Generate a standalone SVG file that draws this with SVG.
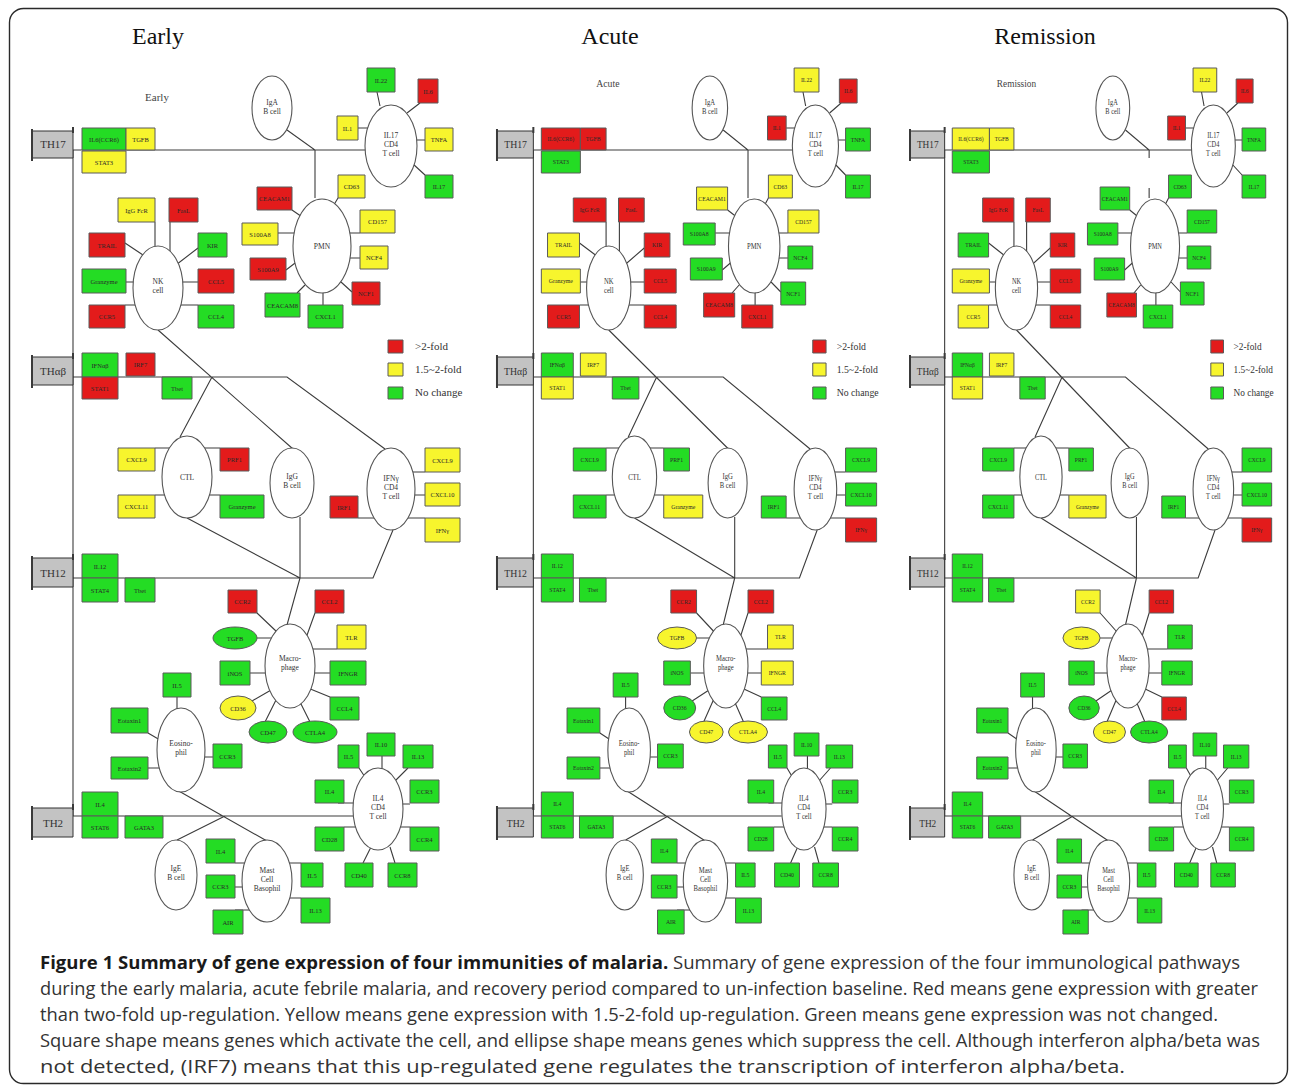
<svg xmlns="http://www.w3.org/2000/svg" width="1290" height="1087" viewBox="0 0 1290 1087">
<style>
text{font-family:"Liberation Serif","DejaVu Serif",serif}
.frame{fill:#fff;stroke:#2a2a2a;stroke-width:1.4}
.ln path{fill:none;stroke:#3c3c3c;stroke-width:1.1;vector-effect:non-scaling-stroke}
.cell ellipse{fill:#fff;stroke:#555;stroke-width:1.1;vector-effect:non-scaling-stroke}
.cell text{font-size:7.5px;fill:#333;text-anchor:middle}
.R,.Y,.G{stroke:#5a5a5a;stroke-width:1;vector-effect:non-scaling-stroke}
.R{fill:#e31b1b}.Y{fill:#f7f52d}.G{fill:#24dc24}
.gn text{font-size:6.5px;fill:#2a2a2a;text-anchor:middle}
.th rect{fill:#c3c3c3;stroke:#333;stroke-width:1;vector-effect:non-scaling-stroke}
.th path{fill:none;stroke:#3a3a3a;stroke-width:2;vector-effect:non-scaling-stroke}
.th text{font-size:11px;fill:#333;text-anchor:middle}
.title{font-size:24px;fill:#111;text-anchor:middle}
.sub{font-size:11px;fill:#444;text-anchor:middle}
.leg text{font-size:11px;fill:#333}
.cap text{font-family:"Open Sans","Liberation Sans",sans-serif;font-size:18px;fill:#333}
.cap .b{font-weight:bold;fill:#1a1a1a}
</style>
<rect class="frame" x="9.5" y="8.5" width="1278" height="1075" rx="14"/>
<g id="titles">
<text class="title" x="158" y="44">Early</text>
<text class="title" x="610" y="44">Acute</text>
<text class="title" x="1045" y="44">Remission</text>
</g>

<!-- ================= EARLY ================= -->
<g id="panel-early">
<text class="sub" x="157" y="101">Early</text>
<g id="e-connectors" class="ln">
<path d="M73,150V816M73,150H366M287,130L315,150V198M158,330L293,449M73,377H287L385,449M212,377L180,437M187,518L300,578M300,517V578M73,578H373L393,530M300,578L287,625M73,816H353M177,790L267,841M225,816L177,840"/>
<path d="M377,92L380,106M420,103L407,113M358,128H370M425,140H414M425,175L413,164"/>
<path d="M292,210L308,221M338,198L332,208M360,233H340M278,233H297M360,258H349M286,270L299,260M352,292L341,282M297,293L305,285M323,305V284"/>
<path d="M155,222V253M170,222V258M198,248L172,268M125,243L143,255M126,282H139M198,282H178M125,305H138M198,305H179"/>
<path d="M155,448H177M220,448H199M155,495H168M220,495H207M425,472H412M425,495H412M425,518H405M358,518H382"/>
<path d="M257,613L277,632M315,613L302,649H337M257,638H279M250,673H270M330,673H310M252,701L278,686M330,697L303,686M265,722L277,698M310,722L298,698"/>
<path d="M177,697V720M148,733L160,740M148,768H161M213,757H200"/>
<path d="M359,768L365,777M382,756V775M408,768L393,783M338,803H357M410,804H397M344,827H358M410,827H398M363,863L373,843M395,863L390,847"/>
<path d="M235,863H249M235,887H249M235,910H257M301,863H287M301,898H288"/>
</g>
<g class="th">
<g id="e-th17"><rect x="32" y="131" width="41" height="27"/><path d="M32,129V161M73,127V133"/><text x="53" y="148">TH17</text></g>
<g id="e-thab"><rect x="32" y="357" width="41" height="28"/><path d="M32,355V388M73,353V359"/><text x="53" y="375">THαβ</text></g>
<g id="e-th12"><rect x="32" y="558" width="41" height="29"/><path d="M32,556V590M73,554V560"/><text x="53" y="577">TH12</text></g>
<g id="e-th2"><rect x="32" y="808" width="41" height="29"/><path d="M32,806V840M73,804V810"/><text x="53" y="827">TH2</text></g>
</g>
<g class="cell">
<g id="e-iga"><ellipse cx="272" cy="108" rx="20" ry="32"/><text x="272" y="105">IgA</text><text x="272" y="114">B cell</text></g>
<g id="e-il17cell"><ellipse cx="391" cy="146" rx="26" ry="41"/><text x="391" y="138">IL17</text><text x="391" y="147">CD4</text><text x="391" y="156">T cell</text></g>
<g id="e-pmn"><ellipse cx="322" cy="246" rx="29" ry="47"/><text x="322" y="249">PMN</text></g>
<g id="e-nk"><ellipse cx="158" cy="288" rx="25" ry="42"/><text x="158" y="284">NK</text><text x="158" y="293">cell</text></g>
<g id="e-ctl"><ellipse cx="187" cy="477" rx="25" ry="41"/><text x="187" y="480">CTL</text></g>
<g id="e-igg"><ellipse cx="292" cy="483" rx="22" ry="35"/><text x="292" y="479">IgG</text><text x="292" y="488">B cell</text></g>
<g id="e-ifng"><ellipse cx="391" cy="489" rx="24" ry="41"/><text x="391" y="481">IFNγ</text><text x="391" y="490">CD4</text><text x="391" y="499">T cell</text></g>
<g id="e-mac"><ellipse cx="290" cy="666" rx="25" ry="42"/><text x="290" y="661">Macro-</text><text x="290" y="670">phage</text></g>
<g id="e-eos"><ellipse cx="181" cy="750" rx="24" ry="42"/><text x="181" y="746">Eosino-</text><text x="181" y="755">phil</text></g>
<g id="e-il4cell"><ellipse cx="378" cy="809" rx="25" ry="41"/><text x="378" y="801">IL4</text><text x="378" y="810">CD4</text><text x="378" y="819">T cell</text></g>
<g id="e-ige"><ellipse cx="176" cy="875" rx="21" ry="35"/><text x="176" y="871">IgE</text><text x="176" y="880">B cell</text></g>
<g id="e-mast"><ellipse cx="267" cy="881" rx="25" ry="41"/><text x="267" y="873">Mast</text><text x="267" y="882">Cell</text><text x="267" y="891">Basophil</text></g>
</g>
<g class="gn">
<g id="e-n1"><rect class="G" x="82" y="128" width="44" height="22"/><text x="104" y="141.5">IL6(CCR6)</text></g>
<g id="e-n2"><rect class="Y" x="126" y="128" width="29" height="22"/><text x="140.5" y="141.5">TGFB</text></g>
<g id="e-n3"><rect class="Y" x="82" y="151" width="44" height="22"/><text x="104" y="164.5">STAT3</text></g>
<g id="e-n4"><rect class="G" x="367" y="68" width="28" height="24"/><text x="381" y="82.5">IL22</text></g>
<g id="e-n5"><rect class="R" x="418" y="79" width="20" height="24"/><text x="428" y="93.5">IL6</text></g>
<g id="e-n6"><rect class="Y" x="337" y="116" width="21" height="24"/><text x="347.5" y="130.5">IL1</text></g>
<g id="e-n7"><rect class="Y" x="425" y="128" width="28" height="23"/><text x="439" y="142">TNFA</text></g>
<g id="e-n8"><rect class="G" x="425" y="175" width="28" height="23"/><text x="439" y="189">IL17</text></g>
<g id="e-n9"><rect class="R" x="257" y="187" width="35" height="23"/><text x="274.5" y="201">CEACAM1</text></g>
<g id="e-n10"><rect class="Y" x="338" y="175" width="27" height="23"/><text x="351.5" y="189">CD63</text></g>
<g id="e-n11"><rect class="Y" x="360" y="210" width="35" height="23"/><text x="377.5" y="224">CD157</text></g>
<g id="e-n12"><rect class="Y" x="242" y="223" width="36" height="22"/><text x="260" y="236.5">S100A8</text></g>
<g id="e-n13"><rect class="Y" x="360" y="246" width="28" height="23"/><text x="374" y="260">NCF4</text></g>
<g id="e-n14"><rect class="R" x="250" y="258" width="36" height="22"/><text x="268" y="271.5">S100A9</text></g>
<g id="e-n15"><rect class="R" x="352" y="282" width="28" height="23"/><text x="366" y="296">NCF1</text></g>
<g id="e-n16"><rect class="G" x="265" y="293" width="35" height="24"/><text x="282.5" y="307.5">CEACAM8</text></g>
<g id="e-n17"><rect class="G" x="308" y="305" width="35" height="23"/><text x="325.5" y="319">CXCL1</text></g>
<g id="e-n18"><rect class="Y" x="118" y="198" width="37" height="24"/><text x="136.5" y="212.5">IgG FcR</text></g>
<g id="e-n19"><rect class="R" x="169" y="198" width="29" height="24"/><text x="183.5" y="212.5">FasL</text></g>
<g id="e-n20"><rect class="R" x="89" y="233" width="36" height="24"/><text x="107" y="247.5">TRAIL</text></g>
<g id="e-n21"><rect class="G" x="198" y="233" width="29" height="24"/><text x="212.5" y="247.5">KIR</text></g>
<g id="e-n22"><rect class="G" x="82" y="269" width="44" height="24"/><text x="104" y="283.5">Granzyme</text></g>
<g id="e-n23"><rect class="R" x="198" y="269" width="36" height="24"/><text x="216" y="283.5">CCL5</text></g>
<g id="e-n24"><rect class="R" x="89" y="305" width="36" height="23"/><text x="107" y="319">CCR5</text></g>
<g id="e-n25"><rect class="G" x="198" y="305" width="36" height="23"/><text x="216" y="319">CCL4</text></g>
<g id="e-n26"><rect class="G" x="82" y="353" width="36" height="24"/><text x="100" y="367.5">IFNαβ</text></g>
<g id="e-n27"><rect class="R" x="126" y="353" width="29" height="23"/><text x="140.5" y="367">IRF7</text></g>
<g id="e-n28"><rect class="R" x="82" y="377" width="36" height="22"/><text x="100" y="390.5">STAT1</text></g>
<g id="e-n29"><rect class="G" x="162" y="377" width="30" height="22"/><text x="177" y="390.5">Tbet</text></g>
<g id="e-n30"><rect class="Y" x="118" y="448" width="37" height="23"/><text x="136.5" y="462">CXCL9</text></g>
<g id="e-n31"><rect class="R" x="220" y="448" width="29" height="23"/><text x="234.5" y="462">PRF1</text></g>
<g id="e-n32"><rect class="Y" x="118" y="495" width="37" height="23"/><text x="136.5" y="509">CXCL11</text></g>
<g id="e-n33"><rect class="G" x="220" y="495" width="44" height="23"/><text x="242" y="509">Granzyme</text></g>
<g id="e-n34"><rect class="Y" x="425" y="448" width="35" height="24"/><text x="442.5" y="462.5">CXCL9</text></g>
<g id="e-n35"><rect class="Y" x="425" y="483" width="35" height="23"/><text x="442.5" y="497">CXCL10</text></g>
<g id="e-n36"><rect class="Y" x="425" y="518" width="35" height="24"/><text x="442.5" y="532.5">IFNγ</text></g>
<g id="e-n37"><rect class="R" x="330" y="496" width="28" height="22"/><text x="344" y="509.5">IRF1</text></g>
<g id="e-n38"><rect class="G" x="82" y="554" width="36" height="24"/><text x="100" y="568.5">IL12</text></g>
<g id="e-n39"><rect class="G" x="82" y="578" width="36" height="24"/><text x="100" y="592.5">STAT4</text></g>
<g id="e-n40"><rect class="G" x="125" y="578" width="30" height="24"/><text x="140" y="592.5">Tbet</text></g>
<g id="e-n41"><rect class="R" x="228" y="590" width="29" height="23"/><text x="242.5" y="604">CCR2</text></g>
<g id="e-n42"><rect class="R" x="315" y="590" width="29" height="23"/><text x="329.5" y="604">CCL2</text></g>
<g id="e-n43"><ellipse class="G" cx="235" cy="638" rx="22" ry="11"/><text x="235" y="640.5">TGFB</text></g>
<g id="e-n44"><rect class="Y" x="337" y="625" width="29" height="24"/><text x="351.5" y="639.5">TLR</text></g>
<g id="e-n45"><rect class="G" x="220" y="661" width="30" height="24"/><text x="235" y="675.5">iNOS</text></g>
<g id="e-n46"><rect class="G" x="330" y="661" width="36" height="24"/><text x="348" y="675.5">IFNGR</text></g>
<g id="e-n47"><ellipse class="Y" cx="238" cy="708" rx="18" ry="12"/><text x="238" y="710.5">CD36</text></g>
<g id="e-n48"><rect class="G" x="330" y="697" width="29" height="23"/><text x="344.5" y="711">CCL4</text></g>
<g id="e-n49"><ellipse class="G" cx="268" cy="732" rx="19" ry="11"/><text x="268" y="734.5">CD47</text></g>
<g id="e-n50"><ellipse class="G" cx="315" cy="732" rx="22" ry="11"/><text x="315" y="734.5">CTLA4</text></g>
<g id="e-n51"><rect class="G" x="163" y="673" width="28" height="24"/><text x="177" y="687.5">IL5</text></g>
<g id="e-n52"><rect class="G" x="111" y="708" width="37" height="25"/><text x="129.5" y="723">Eotaxin1</text></g>
<g id="e-n53"><rect class="G" x="111" y="757" width="37" height="22"/><text x="129.5" y="770.5">Eotaxin2</text></g>
<g id="e-n54"><rect class="G" x="213" y="744" width="29" height="24"/><text x="227.5" y="758.5">CCR3</text></g>
<g id="e-n55"><rect class="G" x="82" y="792" width="36" height="24"/><text x="100" y="806.5">IL4</text></g>
<g id="e-n56"><rect class="G" x="82" y="816" width="36" height="22"/><text x="100" y="829.5">STAT6</text></g>
<g id="e-n57"><rect class="G" x="125" y="816" width="38" height="22"/><text x="144" y="829.5">GATA3</text></g>
<g id="e-n58"><rect class="G" x="338" y="745" width="21" height="23"/><text x="348.5" y="759">IL5</text></g>
<g id="e-n59"><rect class="G" x="367" y="733" width="28" height="23"/><text x="381" y="747">IL10</text></g>
<g id="e-n60"><rect class="G" x="403" y="745" width="30" height="23"/><text x="418" y="759">IL13</text></g>
<g id="e-n61"><rect class="G" x="315" y="780" width="29" height="23"/><text x="329.5" y="794">IL4</text></g>
<g id="e-n62"><rect class="G" x="410" y="780" width="29" height="23"/><text x="424.5" y="794">CCR3</text></g>
<g id="e-n63"><rect class="G" x="315" y="827" width="29" height="24"/><text x="329.5" y="841.5">CD28</text></g>
<g id="e-n64"><rect class="G" x="410" y="827" width="29" height="24"/><text x="424.5" y="841.5">CCR4</text></g>
<g id="e-n65"><rect class="G" x="345" y="863" width="28" height="24"/><text x="359" y="877.5">CD40</text></g>
<g id="e-n66"><rect class="G" x="388" y="863" width="29" height="24"/><text x="402.5" y="877.5">CCR8</text></g>
<g id="e-n67"><rect class="G" x="206" y="839" width="29" height="24"/><text x="220.5" y="853.5">IL4</text></g>
<g id="e-n68"><rect class="G" x="206" y="875" width="29" height="23"/><text x="220.5" y="889">CCR3</text></g>
<g id="e-n69"><rect class="G" x="213" y="910" width="30" height="24"/><text x="228" y="924.5">AIR</text></g>
<g id="e-n70"><rect class="G" x="301" y="863" width="22" height="24"/><text x="312" y="877.5">IL5</text></g>
<g id="e-n71"><rect class="G" x="301" y="898" width="29" height="25"/><text x="315.5" y="913">IL13</text></g>
</g>
<g id="e-legend" class="leg">
<rect class="R" x="388" y="340" width="15" height="13"/><text x="415" y="350">&gt;2-fold</text>
<rect class="Y" x="388" y="363" width="15" height="13"/><text x="415" y="373">1.5~2-fold</text>
<rect class="G" x="388" y="387" width="15" height="12"/><text x="415" y="396">No change</text>
</g>
</g>

<!-- ================= ACUTE ================= -->
<g id="panel-acute" transform="matrix(0.887 0 0 1 468.6 0)">
<text class="sub" x="157" y="87">Acute</text>
<g id="a-connectors" class="ln">
<path d="M73,150V816M73,150H366M287,130L315,150V198M158,330L293,449M73,377H287L385,449M212,377L180,437M187,518L300,578M300,517V578M73,578H373L393,530M300,578L287,625M73,816H353M177,790L267,841M225,816L177,840"/>
<path d="M377,92L380,106M420,103L407,113M358,128H370M425,140H414M425,175L413,164"/>
<path d="M292,210L308,221M338,198L332,208M360,233H340M278,233H297M360,258H349M286,270L299,260M352,292L341,282M297,293L305,285M323,305V284"/>
<path d="M155,222V253M170,222V258M198,248L172,268M125,243L143,255M126,282H139M198,282H178M125,305H138M198,305H179"/>
<path d="M155,448H177M220,448H199M155,495H168M220,495H207M425,472H412M425,495H412M425,518H405M358,518H382"/>
<path d="M257,613L277,632M315,613L302,649H337M257,638H279M250,673H270M330,673H310M252,701L278,686M330,697L303,686M265,722L277,698M310,722L298,698"/>
<path d="M177,697V720M148,733L160,740M148,768H161M213,757H200"/>
<path d="M359,768L365,777M382,756V775M408,768L393,783M338,803H357M410,804H397M344,827H358M410,827H398M363,863L373,843M395,863L390,847"/>
<path d="M235,863H249M235,887H249M235,910H257M301,863H287M301,898H288"/>
</g>
<g class="th">
<g id="a-th17"><rect x="32" y="131" width="41" height="27"/><path d="M32,129V161M73,127V133"/><text x="53" y="148">TH17</text></g>
<g id="a-thab"><rect x="32" y="357" width="41" height="28"/><path d="M32,355V388M73,353V359"/><text x="53" y="375">THαβ</text></g>
<g id="a-th12"><rect x="32" y="558" width="41" height="29"/><path d="M32,556V590M73,554V560"/><text x="53" y="577">TH12</text></g>
<g id="a-th2"><rect x="32" y="808" width="41" height="29"/><path d="M32,806V840M73,804V810"/><text x="53" y="827">TH2</text></g>
</g>
<g class="cell">
<g id="a-iga"><ellipse cx="272" cy="108" rx="20" ry="32"/><text x="272" y="105">IgA</text><text x="272" y="114">B cell</text></g>
<g id="a-il17cell"><ellipse cx="391" cy="146" rx="26" ry="41"/><text x="391" y="138">IL17</text><text x="391" y="147">CD4</text><text x="391" y="156">T cell</text></g>
<g id="a-pmn"><ellipse cx="322" cy="246" rx="29" ry="47"/><text x="322" y="249">PMN</text></g>
<g id="a-nk"><ellipse cx="158" cy="288" rx="25" ry="42"/><text x="158" y="284">NK</text><text x="158" y="293">cell</text></g>
<g id="a-ctl"><ellipse cx="187" cy="477" rx="25" ry="41"/><text x="187" y="480">CTL</text></g>
<g id="a-igg"><ellipse cx="292" cy="483" rx="22" ry="35"/><text x="292" y="479">IgG</text><text x="292" y="488">B cell</text></g>
<g id="a-ifng"><ellipse cx="391" cy="489" rx="24" ry="41"/><text x="391" y="481">IFNγ</text><text x="391" y="490">CD4</text><text x="391" y="499">T cell</text></g>
<g id="a-mac"><ellipse cx="290" cy="666" rx="25" ry="42"/><text x="290" y="661">Macro-</text><text x="290" y="670">phage</text></g>
<g id="a-eos"><ellipse cx="181" cy="750" rx="24" ry="42"/><text x="181" y="746">Eosino-</text><text x="181" y="755">phil</text></g>
<g id="a-il4cell"><ellipse cx="378" cy="809" rx="25" ry="41"/><text x="378" y="801">IL4</text><text x="378" y="810">CD4</text><text x="378" y="819">T cell</text></g>
<g id="a-ige"><ellipse cx="176" cy="875" rx="21" ry="35"/><text x="176" y="871">IgE</text><text x="176" y="880">B cell</text></g>
<g id="a-mast"><ellipse cx="267" cy="881" rx="25" ry="41"/><text x="267" y="873">Mast</text><text x="267" y="882">Cell</text><text x="267" y="891">Basophil</text></g>
</g>
<g class="gn">
<g id="a-n1"><rect class="R" x="82" y="128" width="44" height="22"/><text x="104" y="141.5">IL6(CCR6)</text></g>
<g id="a-n2"><rect class="R" x="126" y="128" width="29" height="22"/><text x="140.5" y="141.5">TGFB</text></g>
<g id="a-n3"><rect class="G" x="82" y="151" width="44" height="22"/><text x="104" y="164.5">STAT3</text></g>
<g id="a-n4"><rect class="Y" x="367" y="68" width="28" height="24"/><text x="381" y="82.5">IL22</text></g>
<g id="a-n5"><rect class="R" x="418" y="79" width="20" height="24"/><text x="428" y="93.5">IL6</text></g>
<g id="a-n6"><rect class="R" x="337" y="116" width="21" height="24"/><text x="347.5" y="130.5">IL1</text></g>
<g id="a-n7"><rect class="G" x="425" y="128" width="28" height="23"/><text x="439" y="142">TNFA</text></g>
<g id="a-n8"><rect class="G" x="425" y="175" width="28" height="23"/><text x="439" y="189">IL17</text></g>
<g id="a-n9"><rect class="Y" x="257" y="187" width="35" height="23"/><text x="274.5" y="201">CEACAM1</text></g>
<g id="a-n10"><rect class="Y" x="338" y="175" width="27" height="23"/><text x="351.5" y="189">CD63</text></g>
<g id="a-n11"><rect class="Y" x="360" y="210" width="35" height="23"/><text x="377.5" y="224">CD157</text></g>
<g id="a-n12"><rect class="G" x="242" y="223" width="36" height="22"/><text x="260" y="236.5">S100A8</text></g>
<g id="a-n13"><rect class="G" x="360" y="246" width="28" height="23"/><text x="374" y="260">NCF4</text></g>
<g id="a-n14"><rect class="G" x="250" y="258" width="36" height="22"/><text x="268" y="271.5">S100A9</text></g>
<g id="a-n15"><rect class="G" x="352" y="282" width="28" height="23"/><text x="366" y="296">NCF1</text></g>
<g id="a-n16"><rect class="R" x="265" y="293" width="35" height="24"/><text x="282.5" y="307.5">CEACAM8</text></g>
<g id="a-n17"><rect class="R" x="308" y="305" width="35" height="23"/><text x="325.5" y="319">CXCL1</text></g>
<g id="a-n18"><rect class="R" x="118" y="198" width="37" height="24"/><text x="136.5" y="212.5">IgG FcR</text></g>
<g id="a-n19"><rect class="R" x="169" y="198" width="29" height="24"/><text x="183.5" y="212.5">FasL</text></g>
<g id="a-n20"><rect class="Y" x="89" y="233" width="36" height="24"/><text x="107" y="247.5">TRAIL</text></g>
<g id="a-n21"><rect class="R" x="198" y="233" width="29" height="24"/><text x="212.5" y="247.5">KIR</text></g>
<g id="a-n22"><rect class="Y" x="82" y="269" width="44" height="24"/><text x="104" y="283.5">Granzyme</text></g>
<g id="a-n23"><rect class="R" x="198" y="269" width="36" height="24"/><text x="216" y="283.5">CCL5</text></g>
<g id="a-n24"><rect class="R" x="89" y="305" width="36" height="23"/><text x="107" y="319">CCR5</text></g>
<g id="a-n25"><rect class="R" x="198" y="305" width="36" height="23"/><text x="216" y="319">CCL4</text></g>
<g id="a-n26"><rect class="G" x="82" y="353" width="36" height="24"/><text x="100" y="367.5">IFNαβ</text></g>
<g id="a-n27"><rect class="Y" x="126" y="353" width="29" height="23"/><text x="140.5" y="367">IRF7</text></g>
<g id="a-n28"><rect class="Y" x="82" y="377" width="36" height="22"/><text x="100" y="390.5">STAT1</text></g>
<g id="a-n29"><rect class="G" x="162" y="377" width="30" height="22"/><text x="177" y="390.5">Tbet</text></g>
<g id="a-n30"><rect class="G" x="118" y="448" width="37" height="23"/><text x="136.5" y="462">CXCL9</text></g>
<g id="a-n31"><rect class="G" x="220" y="448" width="29" height="23"/><text x="234.5" y="462">PRF1</text></g>
<g id="a-n32"><rect class="G" x="118" y="495" width="37" height="23"/><text x="136.5" y="509">CXCL11</text></g>
<g id="a-n33"><rect class="Y" x="220" y="495" width="44" height="23"/><text x="242" y="509">Granzyme</text></g>
<g id="a-n34"><rect class="G" x="425" y="448" width="35" height="24"/><text x="442.5" y="462.5">CXCL9</text></g>
<g id="a-n35"><rect class="G" x="425" y="483" width="35" height="23"/><text x="442.5" y="497">CXCL10</text></g>
<g id="a-n36"><rect class="R" x="425" y="518" width="35" height="24"/><text x="442.5" y="532.5">IFNγ</text></g>
<g id="a-n37"><rect class="G" x="330" y="496" width="28" height="22"/><text x="344" y="509.5">IRF1</text></g>
<g id="a-n38"><rect class="G" x="82" y="554" width="36" height="24"/><text x="100" y="568.5">IL12</text></g>
<g id="a-n39"><rect class="G" x="82" y="578" width="36" height="24"/><text x="100" y="592.5">STAT4</text></g>
<g id="a-n40"><rect class="G" x="125" y="578" width="30" height="24"/><text x="140" y="592.5">Tbet</text></g>
<g id="a-n41"><rect class="R" x="228" y="590" width="29" height="23"/><text x="242.5" y="604">CCR2</text></g>
<g id="a-n42"><rect class="R" x="315" y="590" width="29" height="23"/><text x="329.5" y="604">CCL2</text></g>
<g id="a-n43"><ellipse class="Y" cx="235" cy="638" rx="22" ry="11"/><text x="235" y="640.5">TGFB</text></g>
<g id="a-n44"><rect class="Y" x="337" y="625" width="29" height="24"/><text x="351.5" y="639.5">TLR</text></g>
<g id="a-n45"><rect class="G" x="220" y="661" width="30" height="24"/><text x="235" y="675.5">iNOS</text></g>
<g id="a-n46"><rect class="Y" x="330" y="661" width="36" height="24"/><text x="348" y="675.5">IFNGR</text></g>
<g id="a-n47"><ellipse class="G" cx="238" cy="708" rx="18" ry="12"/><text x="238" y="710.5">CD36</text></g>
<g id="a-n48"><rect class="G" x="330" y="697" width="29" height="23"/><text x="344.5" y="711">CCL4</text></g>
<g id="a-n49"><ellipse class="Y" cx="268" cy="732" rx="19" ry="11"/><text x="268" y="734.5">CD47</text></g>
<g id="a-n50"><ellipse class="Y" cx="315" cy="732" rx="22" ry="11"/><text x="315" y="734.5">CTLA4</text></g>
<g id="a-n51"><rect class="G" x="163" y="673" width="28" height="24"/><text x="177" y="687.5">IL5</text></g>
<g id="a-n52"><rect class="G" x="111" y="708" width="37" height="25"/><text x="129.5" y="723">Eotaxin1</text></g>
<g id="a-n53"><rect class="G" x="111" y="757" width="37" height="22"/><text x="129.5" y="770.5">Eotaxin2</text></g>
<g id="a-n54"><rect class="G" x="213" y="744" width="29" height="24"/><text x="227.5" y="758.5">CCR3</text></g>
<g id="a-n55"><rect class="G" x="82" y="792" width="36" height="24"/><text x="100" y="806.5">IL4</text></g>
<g id="a-n56"><rect class="G" x="82" y="816" width="36" height="22"/><text x="100" y="829.5">STAT6</text></g>
<g id="a-n57"><rect class="G" x="125" y="816" width="38" height="22"/><text x="144" y="829.5">GATA3</text></g>
<g id="a-n58"><rect class="G" x="338" y="745" width="21" height="23"/><text x="348.5" y="759">IL5</text></g>
<g id="a-n59"><rect class="G" x="367" y="733" width="28" height="23"/><text x="381" y="747">IL10</text></g>
<g id="a-n60"><rect class="G" x="403" y="745" width="30" height="23"/><text x="418" y="759">IL13</text></g>
<g id="a-n61"><rect class="G" x="315" y="780" width="29" height="23"/><text x="329.5" y="794">IL4</text></g>
<g id="a-n62"><rect class="G" x="410" y="780" width="29" height="23"/><text x="424.5" y="794">CCR3</text></g>
<g id="a-n63"><rect class="G" x="315" y="827" width="29" height="24"/><text x="329.5" y="841.5">CD28</text></g>
<g id="a-n64"><rect class="G" x="410" y="827" width="29" height="24"/><text x="424.5" y="841.5">CCR4</text></g>
<g id="a-n65"><rect class="G" x="345" y="863" width="28" height="24"/><text x="359" y="877.5">CD40</text></g>
<g id="a-n66"><rect class="G" x="388" y="863" width="29" height="24"/><text x="402.5" y="877.5">CCR8</text></g>
<g id="a-n67"><rect class="G" x="206" y="839" width="29" height="24"/><text x="220.5" y="853.5">IL4</text></g>
<g id="a-n68"><rect class="G" x="206" y="875" width="29" height="23"/><text x="220.5" y="889">CCR3</text></g>
<g id="a-n69"><rect class="G" x="213" y="910" width="30" height="24"/><text x="228" y="924.5">AIR</text></g>
<g id="a-n70"><rect class="G" x="301" y="863" width="22" height="24"/><text x="312" y="877.5">IL5</text></g>
<g id="a-n71"><rect class="G" x="301" y="898" width="29" height="25"/><text x="315.5" y="913">IL13</text></g>
</g>
<g id="a-legend" class="leg">
<rect class="R" x="388" y="340" width="15" height="13"/><text x="415" y="350">&gt;2-fold</text>
<rect class="Y" x="388" y="363" width="15" height="13"/><text x="415" y="373">1.5~2-fold</text>
<rect class="G" x="388" y="387" width="15" height="12"/><text x="415" y="396">No change</text>
</g>
</g>

<!-- ================= REMISSION ================= -->
<g id="panel-remission" transform="matrix(0.845 0 0 1 882.96 0)">
<text class="sub" x="158" y="87">Remission</text>
<g id="r-connectors" class="ln">
<path d="M73,150V816M73,150H366M287,130L315,150V158M315,188V198M158,330L293,449M73,377H287L385,449M212,377L180,437M187,518L300,578M300,517V578M73,578H373L393,530M300,578L287,625M73,816H353M177,790L267,841M225,816L177,840"/>
<path d="M377,92L380,106M420,103L407,113M358,128H370M425,140H414M425,175L413,164"/>
<path d="M292,210L308,221M338,198L332,208M360,233H340M278,233H297M360,258H349M286,270L299,260M352,292L341,282M297,293L305,285M323,305V284"/>
<path d="M155,222V253M170,222V258M198,248L172,268M125,243L143,255M126,282H139M198,282H178M125,305H138M198,305H179"/>
<path d="M155,448H177M220,448H199M155,495H168M220,495H207M425,472H412M425,495H412M425,518H405M358,518H382"/>
<path d="M257,613L277,632M315,613L302,649H337M257,638H279M250,673H270M330,673H310M252,701L278,686M330,697L303,686M265,722L277,698M310,722L298,698"/>
<path d="M177,697V720M148,733L160,740M148,768H161M213,757H200"/>
<path d="M359,768L365,777M382,756V775M408,768L393,783M338,803H357M410,804H397M344,827H358M410,827H398M363,863L373,843M395,863L390,847"/>
<path d="M235,863H249M235,887H249M235,910H257M301,863H287M301,898H288"/>
</g>
<g class="th">
<g id="r-th17"><rect x="32" y="131" width="41" height="27"/><path d="M32,129V161M73,127V133"/><text x="53" y="148">TH17</text></g>
<g id="r-thab"><rect x="32" y="357" width="41" height="28"/><path d="M32,355V388M73,353V359"/><text x="53" y="375">THαβ</text></g>
<g id="r-th12"><rect x="32" y="558" width="41" height="29"/><path d="M32,556V590M73,554V560"/><text x="53" y="577">TH12</text></g>
<g id="r-th2"><rect x="32" y="808" width="41" height="29"/><path d="M32,806V840M73,804V810"/><text x="53" y="827">TH2</text></g>
</g>
<g class="cell">
<g id="r-iga"><ellipse cx="272" cy="108" rx="20" ry="32"/><text x="272" y="105">IgA</text><text x="272" y="114">B cell</text></g>
<g id="r-il17cell"><ellipse cx="391" cy="146" rx="26" ry="41"/><text x="391" y="138">IL17</text><text x="391" y="147">CD4</text><text x="391" y="156">T cell</text></g>
<g id="r-pmn"><ellipse cx="322" cy="246" rx="29" ry="47"/><text x="322" y="249">PMN</text></g>
<g id="r-nk"><ellipse cx="158" cy="288" rx="25" ry="42"/><text x="158" y="284">NK</text><text x="158" y="293">cell</text></g>
<g id="r-ctl"><ellipse cx="187" cy="477" rx="25" ry="41"/><text x="187" y="480">CTL</text></g>
<g id="r-igg"><ellipse cx="292" cy="483" rx="22" ry="35"/><text x="292" y="479">IgG</text><text x="292" y="488">B cell</text></g>
<g id="r-ifng"><ellipse cx="391" cy="489" rx="24" ry="41"/><text x="391" y="481">IFNγ</text><text x="391" y="490">CD4</text><text x="391" y="499">T cell</text></g>
<g id="r-mac"><ellipse cx="290" cy="666" rx="25" ry="42"/><text x="290" y="661">Macro-</text><text x="290" y="670">phage</text></g>
<g id="r-eos"><ellipse cx="181" cy="750" rx="24" ry="42"/><text x="181" y="746">Eosino-</text><text x="181" y="755">phil</text></g>
<g id="r-il4cell"><ellipse cx="378" cy="809" rx="25" ry="41"/><text x="378" y="801">IL4</text><text x="378" y="810">CD4</text><text x="378" y="819">T cell</text></g>
<g id="r-ige"><ellipse cx="176" cy="875" rx="21" ry="35"/><text x="176" y="871">IgE</text><text x="176" y="880">B cell</text></g>
<g id="r-mast"><ellipse cx="267" cy="881" rx="25" ry="41"/><text x="267" y="873">Mast</text><text x="267" y="882">Cell</text><text x="267" y="891">Basophil</text></g>
</g>
<g class="gn">
<g id="r-n1"><rect class="Y" x="82" y="128" width="44" height="22"/><text x="104" y="141.5">IL6(CCR6)</text></g>
<g id="r-n2"><rect class="Y" x="126" y="128" width="29" height="22"/><text x="140.5" y="141.5">TGFB</text></g>
<g id="r-n3"><rect class="G" x="82" y="151" width="44" height="22"/><text x="104" y="164.5">STAT3</text></g>
<g id="r-n4"><rect class="Y" x="367" y="68" width="28" height="24"/><text x="381" y="82.5">IL22</text></g>
<g id="r-n5"><rect class="R" x="418" y="79" width="20" height="24"/><text x="428" y="93.5">IL6</text></g>
<g id="r-n6"><rect class="R" x="337" y="116" width="21" height="24"/><text x="347.5" y="130.5">IL1</text></g>
<g id="r-n7"><rect class="G" x="425" y="128" width="28" height="23"/><text x="439" y="142">TNFA</text></g>
<g id="r-n8"><rect class="G" x="425" y="175" width="28" height="23"/><text x="439" y="189">IL17</text></g>
<g id="r-n9"><rect class="G" x="257" y="187" width="35" height="23"/><text x="274.5" y="201">CEACAM1</text></g>
<g id="r-n10"><rect class="G" x="338" y="175" width="27" height="23"/><text x="351.5" y="189">CD63</text></g>
<g id="r-n11"><rect class="G" x="360" y="210" width="35" height="23"/><text x="377.5" y="224">CD157</text></g>
<g id="r-n12"><rect class="G" x="242" y="223" width="36" height="22"/><text x="260" y="236.5">S100A8</text></g>
<g id="r-n13"><rect class="G" x="360" y="246" width="28" height="23"/><text x="374" y="260">NCF4</text></g>
<g id="r-n14"><rect class="G" x="250" y="258" width="36" height="22"/><text x="268" y="271.5">S100A9</text></g>
<g id="r-n15"><rect class="G" x="352" y="282" width="28" height="23"/><text x="366" y="296">NCF1</text></g>
<g id="r-n16"><rect class="R" x="265" y="293" width="35" height="24"/><text x="282.5" y="307.5">CEACAM8</text></g>
<g id="r-n17"><rect class="G" x="308" y="305" width="35" height="23"/><text x="325.5" y="319">CXCL1</text></g>
<g id="r-n18"><rect class="R" x="118" y="198" width="37" height="24"/><text x="136.5" y="212.5">IgG FcR</text></g>
<g id="r-n19"><rect class="R" x="169" y="198" width="29" height="24"/><text x="183.5" y="212.5">FasL</text></g>
<g id="r-n20"><rect class="G" x="89" y="233" width="36" height="24"/><text x="107" y="247.5">TRAIL</text></g>
<g id="r-n21"><rect class="R" x="198" y="233" width="29" height="24"/><text x="212.5" y="247.5">KIR</text></g>
<g id="r-n22"><rect class="Y" x="82" y="269" width="44" height="24"/><text x="104" y="283.5">Granzyme</text></g>
<g id="r-n23"><rect class="R" x="198" y="269" width="36" height="24"/><text x="216" y="283.5">CCL5</text></g>
<g id="r-n24"><rect class="Y" x="89" y="305" width="36" height="23"/><text x="107" y="319">CCR5</text></g>
<g id="r-n25"><rect class="R" x="198" y="305" width="36" height="23"/><text x="216" y="319">CCL4</text></g>
<g id="r-n26"><rect class="G" x="82" y="353" width="36" height="24"/><text x="100" y="367.5">IFNαβ</text></g>
<g id="r-n27"><rect class="Y" x="126" y="353" width="29" height="23"/><text x="140.5" y="367">IRF7</text></g>
<g id="r-n28"><rect class="Y" x="82" y="377" width="36" height="22"/><text x="100" y="390.5">STAT1</text></g>
<g id="r-n29"><rect class="G" x="162" y="377" width="30" height="22"/><text x="177" y="390.5">Tbet</text></g>
<g id="r-n30"><rect class="G" x="118" y="448" width="37" height="23"/><text x="136.5" y="462">CXCL9</text></g>
<g id="r-n31"><rect class="G" x="220" y="448" width="29" height="23"/><text x="234.5" y="462">PRF1</text></g>
<g id="r-n32"><rect class="G" x="118" y="495" width="37" height="23"/><text x="136.5" y="509">CXCL11</text></g>
<g id="r-n33"><rect class="Y" x="220" y="495" width="44" height="23"/><text x="242" y="509">Granzyme</text></g>
<g id="r-n34"><rect class="G" x="425" y="448" width="35" height="24"/><text x="442.5" y="462.5">CXCL9</text></g>
<g id="r-n35"><rect class="G" x="425" y="483" width="35" height="23"/><text x="442.5" y="497">CXCL10</text></g>
<g id="r-n36"><rect class="R" x="425" y="518" width="35" height="24"/><text x="442.5" y="532.5">IFNγ</text></g>
<g id="r-n37"><rect class="G" x="330" y="496" width="28" height="22"/><text x="344" y="509.5">IRF1</text></g>
<g id="r-n38"><rect class="G" x="82" y="554" width="36" height="24"/><text x="100" y="568.5">IL12</text></g>
<g id="r-n39"><rect class="G" x="82" y="578" width="36" height="24"/><text x="100" y="592.5">STAT4</text></g>
<g id="r-n40"><rect class="G" x="125" y="578" width="30" height="24"/><text x="140" y="592.5">Tbet</text></g>
<g id="r-n41"><rect class="Y" x="228" y="590" width="29" height="23"/><text x="242.5" y="604">CCR2</text></g>
<g id="r-n42"><rect class="R" x="315" y="590" width="29" height="23"/><text x="329.5" y="604">CCL2</text></g>
<g id="r-n43"><ellipse class="Y" cx="235" cy="638" rx="22" ry="11"/><text x="235" y="640.5">TGFB</text></g>
<g id="r-n44"><rect class="G" x="337" y="625" width="29" height="24"/><text x="351.5" y="639.5">TLR</text></g>
<g id="r-n45"><rect class="G" x="220" y="661" width="30" height="24"/><text x="235" y="675.5">iNOS</text></g>
<g id="r-n46"><rect class="G" x="330" y="661" width="36" height="24"/><text x="348" y="675.5">IFNGR</text></g>
<g id="r-n47"><ellipse class="G" cx="238" cy="708" rx="18" ry="12"/><text x="238" y="710.5">CD36</text></g>
<g id="r-n48"><rect class="R" x="330" y="697" width="29" height="23"/><text x="344.5" y="711">CCL4</text></g>
<g id="r-n49"><ellipse class="Y" cx="268" cy="732" rx="19" ry="11"/><text x="268" y="734.5">CD47</text></g>
<g id="r-n50"><ellipse class="G" cx="315" cy="732" rx="22" ry="11"/><text x="315" y="734.5">CTLA4</text></g>
<g id="r-n51"><rect class="G" x="163" y="673" width="28" height="24"/><text x="177" y="687.5">IL5</text></g>
<g id="r-n52"><rect class="G" x="111" y="708" width="37" height="25"/><text x="129.5" y="723">Eotaxin1</text></g>
<g id="r-n53"><rect class="G" x="111" y="757" width="37" height="22"/><text x="129.5" y="770.5">Eotaxin2</text></g>
<g id="r-n54"><rect class="G" x="213" y="744" width="29" height="24"/><text x="227.5" y="758.5">CCR3</text></g>
<g id="r-n55"><rect class="G" x="82" y="792" width="36" height="24"/><text x="100" y="806.5">IL4</text></g>
<g id="r-n56"><rect class="G" x="82" y="816" width="36" height="22"/><text x="100" y="829.5">STAT6</text></g>
<g id="r-n57"><rect class="G" x="125" y="816" width="38" height="22"/><text x="144" y="829.5">GATA3</text></g>
<g id="r-n58"><rect class="G" x="338" y="745" width="21" height="23"/><text x="348.5" y="759">IL5</text></g>
<g id="r-n59"><rect class="G" x="367" y="733" width="28" height="23"/><text x="381" y="747">IL10</text></g>
<g id="r-n60"><rect class="G" x="403" y="745" width="30" height="23"/><text x="418" y="759">IL13</text></g>
<g id="r-n61"><rect class="G" x="315" y="780" width="29" height="23"/><text x="329.5" y="794">IL4</text></g>
<g id="r-n62"><rect class="G" x="410" y="780" width="29" height="23"/><text x="424.5" y="794">CCR3</text></g>
<g id="r-n63"><rect class="G" x="315" y="827" width="29" height="24"/><text x="329.5" y="841.5">CD28</text></g>
<g id="r-n64"><rect class="G" x="410" y="827" width="29" height="24"/><text x="424.5" y="841.5">CCR4</text></g>
<g id="r-n65"><rect class="G" x="345" y="863" width="28" height="24"/><text x="359" y="877.5">CD40</text></g>
<g id="r-n66"><rect class="G" x="388" y="863" width="29" height="24"/><text x="402.5" y="877.5">CCR8</text></g>
<g id="r-n67"><rect class="G" x="206" y="839" width="29" height="24"/><text x="220.5" y="853.5">IL4</text></g>
<g id="r-n68"><rect class="G" x="206" y="875" width="29" height="23"/><text x="220.5" y="889">CCR3</text></g>
<g id="r-n69"><rect class="G" x="213" y="910" width="30" height="24"/><text x="228" y="924.5">AIR</text></g>
<g id="r-n70"><rect class="G" x="301" y="863" width="22" height="24"/><text x="312" y="877.5">IL5</text></g>
<g id="r-n71"><rect class="G" x="301" y="898" width="29" height="25"/><text x="315.5" y="913">IL13</text></g>
</g>
<g id="r-legend" class="leg">
<rect class="R" x="388" y="340" width="15" height="13"/><text x="415" y="350">&gt;2-fold</text>
<rect class="Y" x="388" y="363" width="15" height="13"/><text x="415" y="373">1.5~2-fold</text>
<rect class="G" x="388" y="387" width="15" height="12"/><text x="415" y="396">No change</text>
</g>
</g>

<g id="caption" class="cap">
<text x="40" y="969" textLength="1200" lengthAdjust="spacingAndGlyphs"><tspan class="b">Figure 1 Summary of gene expression of four immunities of malaria.</tspan> Summary of gene expression of the four immunological pathways</text>
<text x="40" y="995" textLength="1218" lengthAdjust="spacingAndGlyphs">during the early malaria, acute febrile malaria, and recovery period compared to un-infection baseline. Red means gene expression with greater</text>
<text x="40" y="1021" textLength="1178" lengthAdjust="spacingAndGlyphs">than two-fold up-regulation. Yellow means gene expression with 1.5-2-fold up-regulation. Green means gene expression was not changed.</text>
<text x="40" y="1047" textLength="1220" lengthAdjust="spacingAndGlyphs">Square shape means genes which activate the cell, and ellipse shape means genes which suppress the cell. Although interferon alpha/beta was</text>
<text x="40" y="1073" textLength="1085" lengthAdjust="spacingAndGlyphs">not detected, (IRF7) means that this up-regulated gene regulates the transcription of interferon alpha/beta.</text>
</g>
</svg>
